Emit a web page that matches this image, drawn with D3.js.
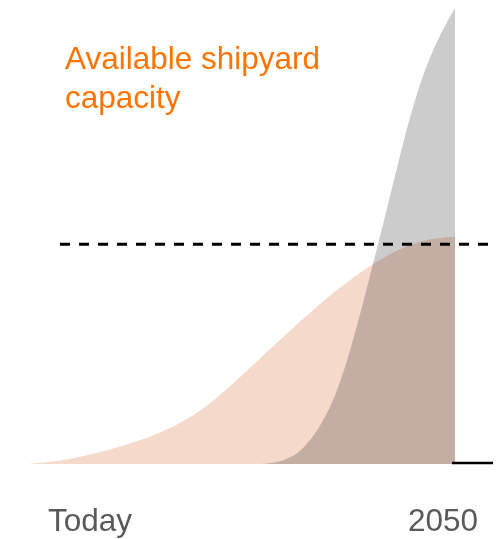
<!DOCTYPE html>
<html>
<head>
<meta charset="utf-8">
<script src="https://cdn.jsdelivr.net/npm/d3@7"></script>
<style>
  body { margin: 0; background: #fff; }
  svg { display: block; font-family: "Liberation Sans", Arial, sans-serif; }
</style>
</head>
<body>
<svg id="chart" width="504" height="539"></svg>
<script>
// years along the x axis
const years = d3.range(2025, 2051);

// available shipyard capacity (peach), index 0..100
const capacity = [0, 0.3, 0.8, 1.5, 2.4, 3.4, 4.5, 5.8, 7.3, 9.1, 11.4, 14.3, 17.6,
  21.1, 24.6, 28.1, 31.5, 34.8, 37.9, 40.8, 43.4, 45.7, 47.6, 48.9, 49.6, 49.8];

// demand (grey)
const demand = [0, 0, 0, 0, 0, 0, 0, 0, 0, 0, 0, 0, 0, 0,
  0, 0.7, 2.6, 7.5, 14.5, 26.3, 41.0, 55.5, 71.3, 84.4, 93.4, 100];

const threshold = 48.2;
const titleLines = ["Available shipyard", "capacity"];
const tickLabels = ["Today", "2050"];

const width = 504, height = 539;
const svg = d3.select("#chart");

let x = d3.scaleLinear().domain([2025, 2050]).range([28, 455]);
let y = d3.scaleLinear().domain([0, 100]).range([464, 8]);

const area = vals => d3.area()
    .x((d, i) => x(years[i]))
    .y0(y(0))
    .y1(d => y(d))
    .curve(d3.curveBasis)(vals);

// capacity area
svg.append("path")
    .attr("d", area(capacity))
    .attr("fill", "#f5d9cb");

// demand area, multiplied over capacity
svg.append("path")
    .attr("d", area(demand))
    .attr("fill", "#cccccc")
    .style("mix-blend-mode", "multiply");

// dashed capacity limit
svg.append("line")
    .attr("x1", x(2025) + 32)
    .attr("x2", width - 9)
    .attr("y1", y(threshold))
    .attr("y2", y(threshold))
    .attr("stroke", "#000")
    .attr("stroke-width", 3)
    .attr("stroke-dasharray", "10,9");

// short baseline stub at the right
svg.append("line")
    .attr("x1", x(2050) - 3)
    .attr("x2", width - 11)
    .attr("y1", y(0) - 1)
    .attr("y2", y(0) - 1)
    .attr("stroke", "#000")
    .attr("stroke-width", 2.5);

// title
svg.append("text")
    .attr("x", 65)
    .attr("y", 69)
    .attr("fill", "#ff7300")
    .style("font-size", "31.5px")
    .selectAll("tspan")
    .data(titleLines)
    .join("tspan")
    .attr("x", 65)
    .attr("dy", (d, i) => i ? 39 : 0)
    .text(d => d);

// axis labels
svg.append("text")
    .attr("x", x(2025) + 20)
    .attr("y", 531)
    .attr("fill", "#595959")
    .style("font-size", "31.5px")
    .text(tickLabels[0]);

svg.append("text")
    .attr("x", x(2050) + 23)
    .attr("y", 531)
    .attr("text-anchor", "end")
    .attr("fill", "#595959")
    .style("font-size", "31.5px")
    .text(tickLabels[1]);
</script>
</body>
</html>
